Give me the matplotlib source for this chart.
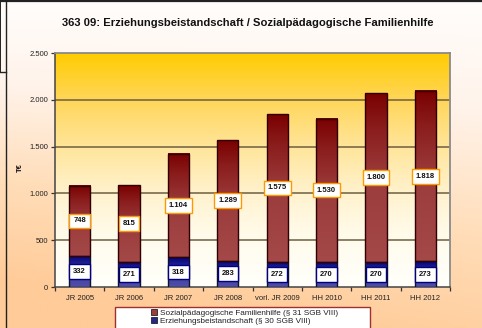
import numpy as np
import matplotlib
matplotlib.use("Agg")
import matplotlib.pyplot as plt
from matplotlib.colors import LinearSegmentedColormap
from matplotlib.patches import Patch, Rectangle
from matplotlib.lines import Line2D

plt.rcParams['font.family'] = ['Liberation Sans', 'DejaVu Sans']

# Data (T€)
categories = ["JR 2005", "JR 2006", "JR 2007", "JR 2008", "vorl. JR 2009",
              "HH 2010", "HH 2011", "HH 2012"]
erziehungsbeistandschaft = [332, 271, 318, 283, 272, 270, 270, 273]
familienhilfe = [748, 815, 1104, 1289, 1575, 1530, 1800, 1818]
y_ticks = [0, 500, 1000, 1500, 2000, 2500]
y_tick_labels = ["0", "500", "1.000", "1.500", "2.000", "2.500"]

title = "363 09: Erziehungsbeistandschaft / Sozialpädagogische Familienhilfe"
legend_labels = ["Sozialpädagogische Familienhilfe (§ 31 SGB VIII)",
                 "Erziehungsbeistandschaft (§ 30 SGB VIII)"]

W, H = 482, 328
fig = plt.figure(figsize=(W / 100, H / 100), dpi=100)

# Figure background: white at top fading to peach at bottom
bg = fig.add_axes([0, 0, 1, 1], zorder=-10)
bg.set_axis_off()
yy, xx = np.mgrid[0:1:200j, 0:1:300j]
t = np.clip(0.85 * yy + 0.25 * (1 - xx) * yy + 0.05, 0, 1)
bg_cmap = LinearSegmentedColormap.from_list("fig_bg", ["#FFFFFF", "#FFF3EA", "#FFDDB8", "#FFCB98"])
bg.imshow(t, cmap=bg_cmap, aspect="auto", extent=[0, 1, 0, 1], origin="upper", vmin=0, vmax=1)
bg.set_xlim(0, 1)
bg.set_ylim(0, 1)

# Frame lines along the figure edges
fig.add_artist(Line2D([0, 1], [0.997, 0.997], color="#222222", lw=1.6, transform=fig.transFigure))
fig.add_artist(Line2D([0.012, 0.012], [0, 1], color="#222222", lw=1.0, transform=fig.transFigure))
fig.add_artist(Line2D([0.001, 0.001], [1 - 72 / H, 1], color="#222222", lw=1.4, transform=fig.transFigure))
fig.add_artist(Line2D([0.0, 0.012], [1 - 72 / H, 1 - 72 / H], color="#222222", lw=1.0, transform=fig.transFigure))

ax = fig.add_axes([55 / W, 1 - 287 / H, (450 - 55) / W, (287 - 53) / H])
n = len(categories)
x = np.arange(n)
ax.set_xlim(-0.5, n - 0.5)
ax.set_ylim(0, 2500)

# Plot area gradient: gold at top, almost white at the bottom
pa_cmap = LinearSegmentedColormap.from_list(
    "plot_bg", [(0.0, "#FFFFFA"), (0.2, "#FFFCEE"), (0.4, "#FFF2CE"),
                (0.6, "#FFE59A"), (0.8, "#FFD65A"), (1.0, "#FFCC00")])
grad = np.linspace(0, 1, 256).reshape(-1, 1)
ax.imshow(grad, cmap=pa_cmap, aspect="auto", extent=[-0.5, n - 0.5, 0, 2500],
          origin="lower", zorder=0)

for v in y_ticks[1:-1]:
    ax.axhline(v, color="#6E5E3E", lw=1.1, zorder=1)

bw = 0.43
red_cmap = LinearSegmentedColormap.from_list(
    "red_bar", [(0.0, "#A44848"), (0.5, "#9C3C3C"), (0.8, "#8A1C1C"), (1.0, "#7A0000")])
blue_cmap = LinearSegmentedColormap.from_list(
    "blue_bar", [(0.0, "#5050A8"), (0.5, "#3C3C9C"), (0.85, "#14148A"), (1.0, "#000078")])

blue_bars = ax.bar(x, erziehungsbeistandschaft, bw, color="none",
                   edgecolor="#101030", lw=1.0, zorder=4)
red_bars = ax.bar(x, familienhilfe, bw, bottom=erziehungsbeistandschaft, color="none",
                  edgecolor="#300000", lw=1.0, zorder=4)

for bars, cmap in ((blue_bars, blue_cmap), (red_bars, red_cmap)):
    for b in bars:
        x0, y0 = b.get_x(), b.get_y()
        ax.imshow(grad, cmap=cmap, aspect="auto", origin="lower",
                  extent=[x0, x0 + b.get_width(), y0, y0 + b.get_height()], zorder=3)

def fmt(v):
    return f"{v:,}".replace(",", ".")

for i in range(n):
    b_val = erziehungsbeistandschaft[i]
    r_val = familienhilfe[i]
    ax.text(x[i], b_val / 2, fmt(b_val), ha="center", va="center", fontsize=5.5,
            fontweight="bold", color="#111111", zorder=6,
            bbox=dict(boxstyle="square,pad=0.5", fc="white", ec="#000080", lw=1.0))
    ax.text(x[i], b_val + r_val / 2, fmt(r_val), ha="center", va="center", fontsize=5.5,
            fontweight="bold", color="#111111", zorder=6,
            bbox=dict(boxstyle="square,pad=0.5", fc="white", ec="#FF9900", lw=1.0))

ax.set_xticks(np.arange(n + 1) - 0.5, minor=False)
ax.set_xticklabels([])
ax.set_xticks(x, minor=True)
ax.set_xticklabels(categories, minor=True)
ax.tick_params(axis="x", which="major", length=3, width=0.9, color="#333333", direction="out")
ax.tick_params(axis="x", which="minor", length=0, labelsize=5.5, pad=6, labelcolor="#222222")
ax.set_yticks(y_ticks)
ax.set_yticklabels(y_tick_labels)
ax.tick_params(axis="y", length=3, width=0.9, color="#333333", labelsize=5.5,
               pad=2, labelcolor="#222222")

for side in ("left", "bottom"):
    ax.spines[side].set_color("#444444")
    ax.spines[side].set_linewidth(1.1)
for side in ("top", "right"):
    ax.spines[side].set_color("#8A8A8A")
    ax.spines[side].set_linewidth(1.3)

fig.text(20 / W, 1 - 168 / H, "T€", rotation=90, ha="center", va="center",
         fontsize=5.5, fontweight="bold", color="#111111")

fig.text(248 / W, 1 - 23 / H, title, ha="center", va="center", fontsize=8.1,
         fontweight="bold", color="#111111")

# Legend: white box below the axis, running past the bottom edge
fig.add_artist(Rectangle((115 / W, -0.02), (370 - 115) / W, 0.02 + (328 - 307) / H,
                         transform=fig.transFigure, facecolor="white",
                         edgecolor="#A03030", lw=1.0, zorder=5))
handles = [Patch(facecolor="#9C3C3C", edgecolor="#222222", lw=0.6),
           Patch(facecolor="#28288C", edgecolor="#222222", lw=0.6)]
leg = fig.legend(handles, legend_labels, loc="upper center",
                 bbox_to_anchor=(245 / W, 1 - 307.5 / H),
                 fontsize=5.9, frameon=False,
                 handlelength=0.7, handleheight=0.7, handletextpad=0.4,
                 labelspacing=0.05, borderpad=0.2, borderaxespad=0)
leg.set_zorder(6)
for txt in leg.get_texts():
    txt.set_color("#222222")

fig.savefig("out.png", dpi=100)
